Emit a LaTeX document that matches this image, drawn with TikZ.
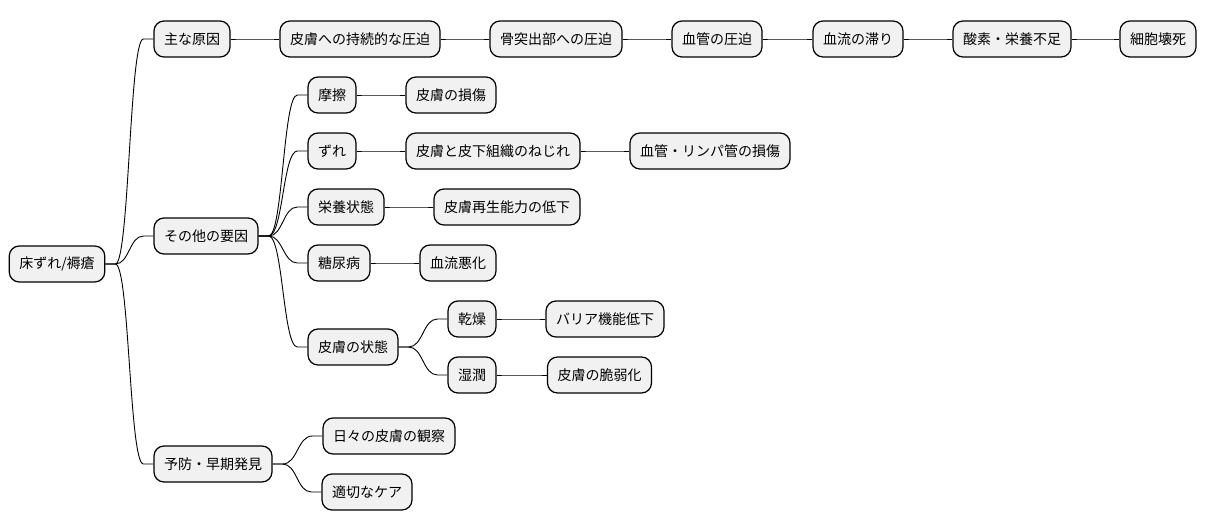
\documentclass[tikz,border=0pt]{standalone}
\usepackage{fontspec}
\setmainfont{Noto Sans CJK JP}
\usetikzlibrary{calc}
\definecolor{nodefill}{HTML}{F1F1F1}
\tikzset{
  mm/.style={draw=black, line width=1.2pt, fill=nodefill, rounded corners=10pt,
    minimum height=36pt, inner xsep=10pt, inner ysep=0pt,
    font=\fontsize{14}{17}\selectfont, text=black, anchor=center},
  conn/.style={draw=black, line width=0.9pt}
}
\newcommand{\mmlink}[2]{%
  \path (#1.east) ++(10,0) coordinate (s);
  \path (#2.west) ++(-10,0) coordinate (t);
  \coordinate (m) at ($(s)!0.5!(t)$);
  \draw[conn] (#1.east) -- (s) .. controls (m |- s) and (m |- t) .. (t) -- (#2.west);
}
\begin{document}
\begin{tikzpicture}[x=1pt,y=-1pt]
\useasboundingbox (0,0) rectangle (1207,527);
\node[mm] (root) at (57,264) {床ずれ/褥瘡};
\node[mm] (a) at (192,39) {主な原因};
\node[mm] (a1) at (360,39) {皮膚への持続的な圧迫};
\node[mm] (a2) at (556,39) {骨突出部への圧迫};
\node[mm] (a3) at (717,39) {血管の圧迫};
\node[mm] (a4) at (858,39) {血流の滞り};
\node[mm] (a5) at (1012,39) {酸素・栄養不足};
\node[mm] (a6) at (1158,39) {細胞壊死};
\node[mm] (b) at (206,236) {その他の要因};
\node[mm] (b1) at (332,95) {摩擦};
\node[mm] (b11) at (451,95) {皮膚の損傷};
\node[mm] (b2) at (332,151) {ずれ};
\node[mm] (b21) at (493,151) {皮膚と皮下組織のねじれ};
\node[mm] (b22) at (710,151) {血管・リンパ管の損傷};
\node[mm] (b3) at (346,207) {栄養状態};
\node[mm] (b31) at (507,207) {皮膚再生能力の低下};
\node[mm] (b4) at (339,263) {糖尿病};
\node[mm] (b41) at (458,263) {血流悪化};
\node[mm] (b5) at (353,347) {皮膚の状態};
\node[mm] (b51) at (472,319) {乾燥};
\node[mm] (b511) at (605,319) {バリア機能低下};
\node[mm] (b52) at (472,375) {湿潤};
\node[mm] (b521) at (599.5,375) {皮膚の脆弱化};
\node[mm] (c) at (213,464) {予防・早期発見};
\node[mm] (c1) at (389,436) {日々の皮膚の観察};
\node[mm] (c2) at (367,492) {適切なケア};
\foreach \p/\q in {root/a, a/a1, a1/a2, a2/a3, a3/a4, a4/a5, a5/a6,
  root/b, b/b1, b1/b11, b/b2, b2/b21, b21/b22, b/b3, b3/b31, b/b4, b4/b41,
  b/b5, b5/b51, b51/b511, b5/b52, b52/b521, root/c, c/c1, c/c2} {
  \mmlink{\p}{\q}
}
\end{tikzpicture}
\end{document}
